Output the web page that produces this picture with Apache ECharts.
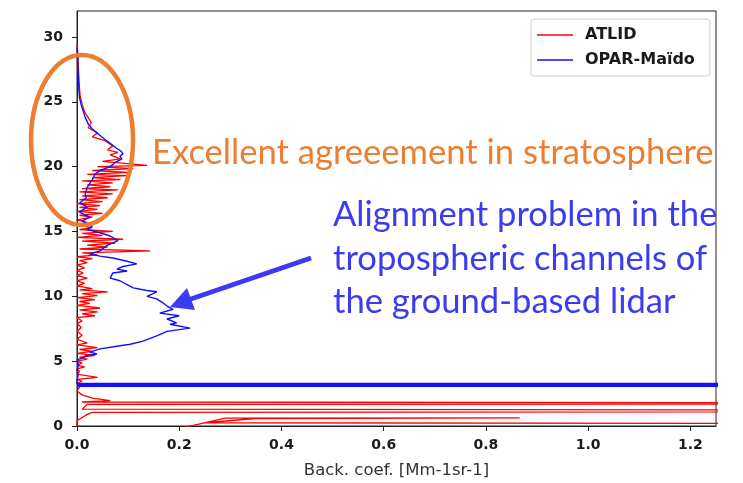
<!DOCTYPE html>
<html>
<head>
<meta charset="utf-8">
<script src="https://cdn.jsdelivr.net/npm/echarts@6/dist/echarts.min.js"></script>
<style>
  html, body { margin: 0; padding: 0; background: #ffffff; }
  #chart { width: 743px; height: 483px; }
</style>
</head>
<body>
<div id="chart"></div>
<script>
// Backscatter profiles: altitude (km) and backscatter coefficient (Mm-1 sr-1)
const atlidAlt = [29.5, 28.5, 27.5, 26.5, 25.5, 24.8, 24.2, 23.4, 23.0, 22.6, 22.3, 22.0, 21.6, 21.3, 21.1, 20.9, 20.6, 20.4,
  20.1, 20.0, 19.85, 19.7, 19.55, 19.4, 19.3, 19.15, 19.0, 18.9, 18.75, 18.6, 18.45, 18.3, 18.2, 18.05, 17.9, 17.75, 17.6, 17.45, 17.3, 17.15, 17.0, 16.85, 16.7, 16.55, 16.4, 16.25, 16.1, 15.9, 15.7, 15.5,
  15.3, 15.15, 15.0, 14.85, 14.7, 14.55, 14.4, 14.25, 14.1, 13.95, 13.8, 13.65, 13.5, 13.35, 13.2, 13.05, 12.9, 12.75, 12.6, 12.4,
  12.2, 12.0, 11.8, 11.6, 11.4, 11.2, 11.0, 10.8,
  10.6, 10.5, 10.35, 10.2, 10.05, 9.9, 9.75, 9.6, 9.45, 9.3, 9.1, 8.95, 8.8, 8.65, 8.5, 8.35,
  8.1, 7.9, 7.6, 7.3, 7.0, 6.7,
  6.4, 6.25, 6.05, 5.9, 5.75, 5.6, 5.45, 5.3, 5.15, 5.0, 4.85, 4.7, 4.55, 4.4, 4.2, 4.0, 3.75, 3.6, 3.45, 3.3, 3.0, 2.7, 2.4, 2.15,
  1.95, 1.85, 1.75, 1.66, 1.3, 1.16, 1.05, 0.9, 0.4, -0.2, -0.2, 0.6, 0.62, 0.58, 0.25, 0.12];
const atlidCoef = [0.0, 0.002, 0.003, 0.004, 0.006, 0.01, 0.015, 0.028, 0.022, 0.04, 0.03, 0.055, 0.07, 0.06, 0.08, 0.065, 0.085, 0.05,
  0.137, 0.04, 0.11, 0.03, 0.1, 0.02, 0.097, 0.03, 0.085, 0.01, 0.07, 0.02, 0.065, 0.01, 0.08, 0.005, 0.07, 0.01, 0.06, 0.005, 0.05, 0.0, 0.045, 0.005, 0.04, 0.0, 0.05, 0.005, 0.03, 0.0, 0.02, 0.0,
  0.03, 0.005, 0.07, 0.01, 0.05, 0.0, 0.09, 0.01, 0.075, 0.02, 0.06, 0.005, 0.143, 0.01, 0.04, 0.0, 0.03, 0.005, 0.02, 0.0,
  0.015, 0.0, 0.012, 0.0, 0.02, 0.0, 0.015, 0.0,
  0.03, 0.005, 0.06, 0.01, 0.04, 0.0, 0.035, 0.005, 0.025, 0.0, 0.045, 0.005, 0.04, 0.01, 0.035, 0.0,
  0.01, 0.0, 0.008, 0.0, 0.01, 0.0,
  0.02, 0.0, 0.04, 0.005, 0.03, 0.0, 0.035, 0.005, 0.02, 0.0, 0.01, 0.0, 0.015, 0.0, 0.005, 0.0, 0.04, 0.0, 0.01, 0.0, 0.005, 0.0, 0.01, 0.03,
  0.065, 0.01, 3.0, 0.02, 0.01, 3.0, 0.03, 0.02, 0.0, 0.0, 0.2, 0.29, 0.866, 0.35, 0.25, 3.0];

const oparAlt = [29.2, 28.5, 27.5, 26.5, 25.8, 25.3, 24.8, 24.3, 23.8, 23.3, 22.9, 22.6, 22.3, 22.0, 21.7, 21.4, 21.2, 21.0, 20.8, 20.6, 20.3, 20.0,
  19.7, 19.4, 19.0, 18.7, 18.4, 17.9, 17.6, 17.2, 16.9, 16.5, 16.1, 15.8, 15.4, 15.15, 14.9, 14.65, 14.3, 13.9, 13.5, 13.25, 13.1, 12.95,
  12.7, 12.5, 12.3, 12.1, 11.95, 11.8, 11.4, 11.2, 10.95, 10.65, 10.45, 10.35, 10.0, 9.8, 9.5, 9.25, 9.0, 8.7, 8.5, 8.25, 7.95, 7.85,
  7.55, 7.3, 7.1, 6.95, 6.55, 6.3, 6.15, 5.95, 5.7, 5.55, 5.4, 5.25, 5.1, 4.7, 4.3, 3.9, 3.5, 3.3, 3.26, 3.22, 3.18, 3.14, 3.1, 3.06];
const oparCoef = [0.0, 0.001, 0.002, 0.003, 0.004, 0.005, 0.008, 0.012, 0.016, 0.022, 0.03, 0.039, 0.048, 0.058, 0.068, 0.078, 0.086, 0.09, 0.084, 0.088, 0.074, 0.065,
  0.045, 0.035, 0.03, 0.025, 0.02, 0.016, 0.018, 0.005, 0.02, 0.005, 0.025, 0.01, 0.03, 0.02, 0.045, 0.065, 0.08, 0.058, 0.045, 0.025, 0.045, 0.07,
  0.098, 0.117, 0.09, 0.078, 0.098, 0.07, 0.065, 0.084, 0.095, 0.11, 0.137, 0.156, 0.137, 0.156, 0.168, 0.176, 0.188, 0.162, 0.2, 0.176, 0.195, 0.182,
  0.221, 0.176, 0.165, 0.156, 0.129, 0.104, 0.078, 0.045, 0.025, 0.039, 0.016, 0.012, 0.0, 0.003, 0.0, 0.002, 0.0, 0.0, 5.0, 0.0, 5.0, 0.0, 5.0, 0.0];

const seriesNames = ['ATLID', 'OPAR-Maïdo'];
const xTickValues = [0, 0.2, 0.4, 0.6, 0.8, 1.0, 1.2];
const yTickValues = [0, 5, 10, 15, 20, 25, 30];
const xAxisTitle = 'Back. coef. [Mm-1sr-1]';
const noteStrat = 'Excellent agreeement in stratosphere';
const noteTropo = ['Alignment problem in the', 'tropospheric channels of', 'the ground-based lidar'];

const zip = (xs, ys) => xs.map((x, i) => [x, ys[i]]);

const chart = echarts.init(document.getElementById('chart'), null, { renderer: 'canvas' });

const tickFont = { color: '#1a1a1a', fontFamily: 'DejaVu Sans', fontWeight: 'bold', fontSize: 14 };
const orange = '#ED7D31';
const blueNote = '#3b3bf2';
const noteFont = '34.6px Lato';

chart.setOption({
  animation: false,
  backgroundColor: '#ffffff',
  grid: {
    left: 77, top: 11, right: 27, bottom: 57, outerBoundsMode: 'none',
    show: true, borderColor: '#222', borderWidth: 1, backgroundColor: 'transparent'
  },
  legend: {
    orient: 'vertical', left: 531, top: 19,
    data: seriesNames,
    icon: 'rect', itemWidth: 36, itemHeight: 1.5, itemGap: 9,
    padding: [8, 15, 8, 6],
    borderColor: '#cfcfcf', borderWidth: 1, borderRadius: 3, backgroundColor: '#ffffff',
    textStyle: { color: '#1a1a1a', fontFamily: 'DejaVu Sans', fontWeight: 'bold', fontSize: 16, lineHeight: 16, padding: [0, 0, 0, 7] }
  },
  xAxis: {
    type: 'value', min: 0, max: 1.25,
    name: xAxisTitle, nameLocation: 'middle', nameGap: 36,
    nameTextStyle: { color: '#333', fontFamily: 'DejaVu Sans', fontSize: 16.5 },
    axisLine: { show: true, onZero: false, lineStyle: { color: '#222', width: 1 } },
    axisTick: { show: true, length: 5, customValues: xTickValues, lineStyle: { color: '#222' } },
    axisLabel: { ...tickFont, margin: 12, customValues: xTickValues, formatter: v => v.toFixed(1) },
    splitLine: { show: false }
  },
  yAxis: {
    type: 'value', min: 0, max: 32,
    axisLine: { show: true, onZero: false, lineStyle: { color: '#222', width: 1 } },
    axisTick: { show: true, length: 5, customValues: yTickValues, lineStyle: { color: '#222' } },
    axisLabel: { ...tickFont, margin: 14, customValues: yTickValues },
    splitLine: { show: false }
  },
  series: [
    {
      name: seriesNames[0], type: 'line', data: zip(atlidCoef, atlidAlt),
      symbol: 'none', color: '#ff0000', lineStyle: { color: '#ff0000', width: 1.3 }, clip: true, z: 2
    },
    {
      name: seriesNames[1], type: 'line', data: zip(oparCoef, oparAlt),
      symbol: 'none', color: '#1010ff', lineStyle: { color: '#1010ff', width: 1.4 }, clip: true, z: 3
    }
  ],
  graphic: [
    {
      type: 'ellipse', z: 10,
      shape: { cx: 82, cy: 140, rx: 51, ry: 85 },
      style: { fill: 'none', stroke: orange, lineWidth: 4.5 }
    },
    {
      type: 'text', z: 10, x: 152, y: 153,
      style: { text: noteStrat, fill: orange, font: noteFont, align: 'left', verticalAlign: 'middle' }
    },
    ...noteTropo.map((line, i) => ({
      type: 'text', z: 10, x: 333, y: 215 + i * 43.5,
      style: { text: line, fill: blueNote, font: noteFont, align: 'left', verticalAlign: 'middle' }
    })),
    {
      type: 'line', z: 10,
      shape: { x1: 311, y1: 258, x2: 188, y2: 300 },
      style: { stroke: blueNote, lineWidth: 5 }
    },
    {
      type: 'polygon', z: 10,
      shape: { points: [[170, 307], [187, 288], [195, 310]] },
      style: { fill: blueNote }
    }
  ]
});
</script>
</body>
</html>
